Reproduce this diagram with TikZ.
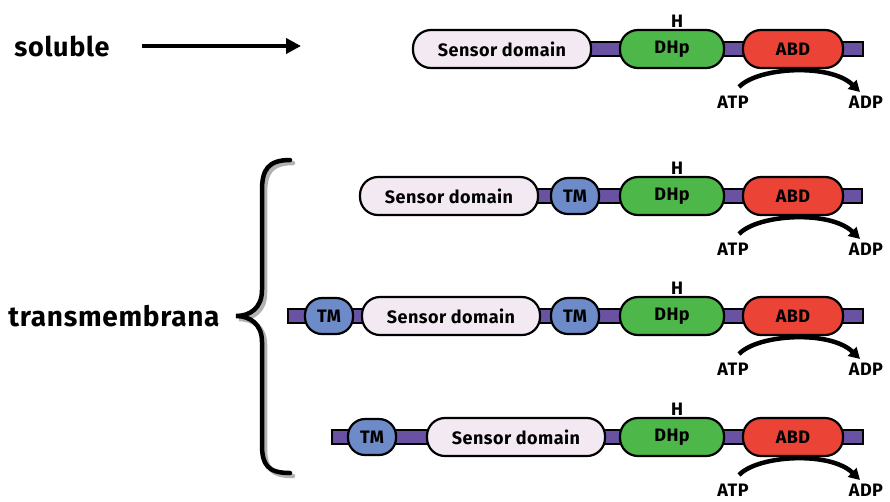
\documentclass[tikz,border=0pt]{standalone}
\usepackage{fontspec}
\setmainfont{Fira Sans}[LetterSpace=2.5]
\usetikzlibrary{arrows.meta}

\definecolor{sensorfill}{HTML}{F3E9F3}
\definecolor{tmfill}{HTML}{6D8BC9}
\definecolor{dhpfill}{HTML}{4DB749}
\definecolor{abdfill}{HTML}{EB4436}
\definecolor{linkerfill}{HTML}{6952A2}

\tikzset{
  protbox/.style={draw=black, line width=2.2pt, rounded corners=18pt,
    minimum height=38pt, inner sep=0pt,
    font=\fontsize{18}{18}\selectfont\bfseries},
  sensor/.style={protbox, fill=sensorfill, minimum width=178pt},
  tmbox/.style={protbox, fill=tmfill, minimum width=48pt,
    minimum height=36pt, rounded corners=17pt},
  dhpbox/.style={protbox, fill=dhpfill, minimum width=104pt},
  abdbox/.style={protbox, fill=abdfill, minimum width=100pt},
  linker/.style={draw=black, line width=2pt, fill=linkerfill,
    minimum height=14pt, inner sep=0pt},
  lbl/.style={font=\fontsize{18}{18}\selectfont\bfseries, inner sep=0pt},
  biglbl/.style={font=\fontsize{27}{27}\selectfont\bfseries, inner sep=0pt},
  rxn/.style={line width=4.5pt, -{Triangle[length=11pt,width=12pt]}},
  bracepath/.style={line width=4.5pt, line cap=round},
}

% DHp + ABD catalytic core with its phospho-histidine and ATP -> ADP turnover
\newcommand{\kinasecore}[2]{%
  \node[dhpbox] (dhp#1) at (672,#2) {DHp};
  \node[abdbox] (abd#1) at (793,#2) {ABD};
  \node[lbl] (his#1) at (677,#2-28) {H};
  \node[lbl] (atp#1) at (733,#2+53) {ATP};
  \node[lbl] (adp#1) at (866,#2+53) {ADP};
  \coordinate (rxs#1) at (739,#2+38);
  \coordinate (rxe#1) at (860,#2+43);
  \draw[rxn] (rxs#1) .. controls (758,#2+18) and (830,#2+14) .. (rxe#1);
}

\begin{document}
\begin{tikzpicture}[x=1pt, y=-1pt]
\useasboundingbox (0,0) rectangle (890,501);

% ---- soluble kinase ----
\node[biglbl] (soluble) at (62,46) {soluble};
\coordinate (solend) at (301,46);
\draw[line width=4pt, -{Triangle[length=15pt,width=15pt]}, shorten <=32pt]
  (soluble.east) -- (solend);

\node[linker, minimum width=290pt] (bar1) at (718,49) {};
\node[sensor] (sd1) at (502,49) {Sensor domain};
\kinasecore{1}{49}

% ---- transmembrane kinases ----
\node[biglbl, font=\fontsize{28}{28}\selectfont\bfseries] (tmlabel) at (114,316) {transmembrana};

\begin{scope}
  \draw[bracepath, black!30, shift={(3,3)}]
    (290,160) .. controls (268,160) and (262,170) .. (262,190) -- (262,290)
    .. controls (262,308) and (250,316) .. (236,316)
    .. controls (250,316) and (262,324) .. (262,342) -- (262,445)
    .. controls (262,465) and (268,473) .. (290,473);
  \draw[bracepath]
    (290,160) .. controls (268,160) and (262,170) .. (262,190) -- (262,290)
    .. controls (262,308) and (250,316) .. (236,316)
    .. controls (250,316) and (262,324) .. (262,342) -- (262,445)
    .. controls (262,465) and (268,473) .. (290,473);
\end{scope}

% row 2: sensor - TM - core
\node[linker, minimum width=340pt] (bar2) at (692,196) {};
\node[sensor] (sd2) at (449,196) {Sensor domain};
\node[tmbox] (tm2) at (575,196) {TM};
\kinasecore{2}{196}

% row 3: TM - sensor - TM - core
\node[linker, minimum width=575pt] (bar3) at (575.5,316) {};
\node[tmbox] (tm3a) at (329,316) {TM};
\node[sensor] (sd3) at (451,316) {Sensor domain};
\node[tmbox] (tm3b) at (575,316) {TM};
\kinasecore{3}{316}

% row 4: TM - sensor - core
\node[linker, minimum width=531pt] (bar4) at (597.5,437) {};
\node[tmbox] (tm4) at (372,437) {TM};
\node[sensor] (sd4) at (516,437) {Sensor domain};
\kinasecore{4}{437}

\end{tikzpicture}
\end{document}
